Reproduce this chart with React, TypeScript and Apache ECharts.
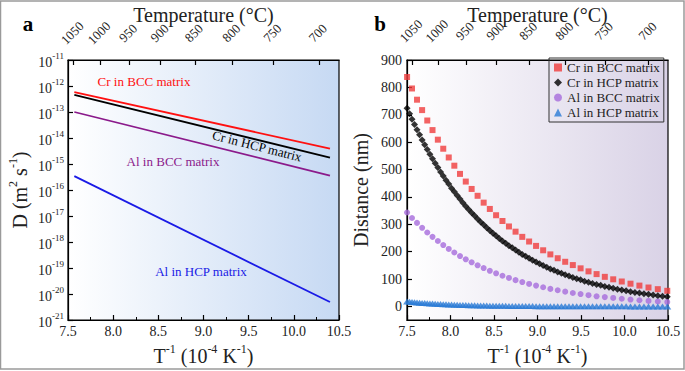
import React, { useEffect, useRef } from "react";
import * as echarts from "echarts";

const FONT = "'Liberation Serif', 'Times New Roman', serif";

// ---------- shared tick values ----------
const TEMP_TICKS = [1050, 1000, 950, 900, 850, 800, 750, 700];
const DIST_TICKS = [0, 100, 200, 300, 400, 500, 600, 700, 800, 900];

// ---------- panel a : diffusion coefficient lines (endpoints), m^2/s ----------
const LINE_X = [7.57, 10.4];
const CR_BCC_D = [5.8e-13, 3.9e-15];
const CR_HCP_D = [4.6e-13, 1.74e-15];
const AL_BCC_D = [1.0e-13, 3.6e-16];
const AL_HCP_D = [3.4e-16, 4.9e-21];
// decade range of panel a (exponents of ten)
const D_MIN_EXP = -21;
const D_MAX_EXP = -11;

// ---------- panel b : diffusion distance (nm) ----------
const TEMPS_COARSE = [
  1060, 1050, 1040, 1030, 1020, 1010, 1000, 990, 980, 970, 960, 950, 940, 930, 920, 910, 900, 890, 880, 870,
  860, 850, 840, 830, 820, 810, 800, 790, 780, 770, 760, 750, 740, 730, 720, 710, 700, 690, 680,
];
const TEMPS_FINE = [
  1060, 1055, 1050, 1045, 1040, 1035, 1030, 1025, 1020, 1015, 1010, 1005, 1000, 995, 990, 985, 980, 975, 970, 965,
  960, 955, 950, 945, 940, 935, 930, 925, 920, 915, 910, 905, 900, 895, 890, 885, 880, 875, 870, 865,
  860, 855, 850, 845, 840, 835, 830, 825, 820, 815, 810, 805, 800, 795, 790, 785, 780, 775, 770, 765,
  760, 755, 750, 745, 740, 735, 730, 725, 720, 715, 710, 705, 700, 695, 690, 685, 680,
];
const CR_BCC_DIST = [
  838, 796, 755, 717, 679, 644, 609, 576, 544, 514, 484, 456, 429, 404, 379, 356, 333, 312, 292, 273,
  254, 237, 221, 205, 190, 176, 163, 151, 139, 128, 118, 108, 99, 91, 83, 76, 69, 63, 57,
];
const CR_HCP_DIST = [
  724, 704, 684, 664, 645, 627, 608, 590, 573, 556, 539, 523, 507, 491, 476, 461, 447, 432, 419, 405,
  392, 379, 366, 354, 342, 331, 319, 308, 298, 287, 277, 267, 258, 248, 239, 231, 222, 214, 206, 198,
  190, 183, 176, 169, 162, 156, 149, 143, 137, 132, 126, 121, 116, 111, 106, 101, 97, 92, 88, 84,
  80, 77, 73, 70, 66, 63, 60, 57, 54, 51, 49, 46, 44, 42, 39, 37, 35,
];
const AL_BCC_DIST = [
  343, 323, 305, 287, 270, 254, 239, 224, 210, 197, 184, 172, 161, 150, 140, 130, 121, 112, 104, 96,
  89, 82, 76, 70, 64, 59, 54, 49, 45, 41, 37, 34, 31, 28, 25, 22.5, 20, 18, 16,
];
const AL_HCP_DIST = [
  18.0, 17.0, 16.1, 15.2, 14.4, 13.6, 12.9, 12.1, 11.5, 10.8, 10.2, 9.6, 9.1, 8.5, 8.0, 7.5, 7.1, 6.7, 6.3, 5.9,
  5.5, 5.2, 4.9, 4.5, 4.3, 4.0, 3.7, 3.5, 3.3, 3.0, 2.8, 2.6, 2.5, 2.3, 2.1, 2.0, 1.85, 1.72, 1.6, 1.48,
  1.38, 1.28, 1.18, 1.09, 1.01, 0.94, 0.86, 0.8, 0.74, 0.68, 0.62, 0.58, 0.53, 0.49, 0.45, 0.41, 0.38, 0.35, 0.32, 0.29,
  0.26, 0.24, 0.22, 0.2, 0.18, 0.17, 0.15, 0.14, 0.12, 0.11, 0.1, 0.09, 0.08, 0.07, 0.07, 0.06, 0.05,
];

const SERIES_NAMES = ["Cr in BCC matrix", "Cr in HCP matrix", "Al in BCC matrix", "Al in HCP matrix"];

const invT = (t: number) => 10000 / (t + 273.15);

const GRID_A = { left: 68, top: 57, width: 271, height: 263 };
const GRID_B = { left: 407, top: 55, width: 261, height: 268 };

const tickRich = {
  b: { fontFamily: FONT, fontSize: 14, color: "#222", lineHeight: 18, verticalAlign: "bottom" },
  s: { fontFamily: FONT, fontSize: 9, color: "#222", lineHeight: 18, verticalAlign: "top" },
};
const nameRich = {
  nb: { fontFamily: FONT, fontSize: 20, color: "#222", lineHeight: 23, verticalAlign: "bottom" },
  ns: { fontFamily: FONT, fontSize: 12, color: "#222", lineHeight: 23, verticalAlign: "top" },
};

const axisLine = { show: true, onZero: false, lineStyle: { color: "#000", width: 1.2 } };
const tickStyle = { color: "#000", width: 1.2 };

function annot(text: string, x: number, y: number, color: string, rotation = 0) {
  return {
    type: "text",
    x,
    y,
    rotation,
    style: { text, fill: color, font: `13px ${FONT}`, align: "center", verticalAlign: "middle" },
    z: 100,
  };
}

function baseGraphics() {
  return [
    {
      type: "rect",
      shape: { x: 0.5, y: 1, width: 683.5, height: 368 },
      style: { fill: "none", stroke: "#9a9a9a", lineWidth: 1.5 },
      silent: true,
    },
    {
      type: "text",
      x: 28,
      y: 24,
      style: { text: "a", fill: "#000", font: `bold 21px ${FONT}`, align: "center", verticalAlign: "middle" },
    },
    {
      type: "text",
      x: 380,
      y: 24,
      style: { text: "b", fill: "#000", font: `bold 21px ${FONT}`, align: "center", verticalAlign: "middle" },
    },
    annot("Cr in BCC matrix", 144, 81, "#ff1010"),
    annot("Cr in HCP matrix", 257, 146, "#000000", -0.25),
    annot("Al in BCC matrix", 173, 161, "#8b1a8b"),
    annot("Al in HCP matrix", 201, 271, "#1a1ae6"),
  ];
}

function buildOption() {
  const topValues = TEMP_TICKS.map(invT);
  const xName = "{nb|T}{ns|-1}{nb| (10}{ns|-4}{nb| K}{ns|-1}{nb|)}";

  const bottomX = (gridIndex: number) => ({
    type: "value",
    gridIndex,
    position: "bottom",
    min: 7.5,
    max: 10.5,
    interval: 0.5,
    axisLine,
    axisTick: { show: true, inside: true, length: 5, lineStyle: tickStyle },
    minorTick: { show: true, splitNumber: 2, length: 3, lineStyle: { color: "#000", width: 1 } },
    splitLine: { show: false },
    axisLabel: {
      fontFamily: FONT,
      fontSize: 14,
      color: "#222",
      margin: 4,
      formatter: (v: number) => v.toFixed(1),
    },
    name: xName,
    nameLocation: "middle",
    nameGap: 17,
    nameTextStyle: { rich: nameRich },
  });

  const topX = (gridIndex: number) => ({
    type: "value",
    gridIndex,
    position: "top",
    min: 7.5,
    max: 10.5,
    axisLine,
    axisTick: { show: true, inside: true, length: 5, lineStyle: tickStyle, customValues: topValues },
    splitLine: { show: false },
    axisLabel: { show: false },
    name: "Temperature (°C)",
    nameLocation: "middle",
    nameGap: 35,
    nameTextStyle: { fontFamily: FONT, fontSize: 20, color: "#222" },
  });

  const gradA = new echarts.graphic.LinearGradient(0, 0, 1, 0, [
    { offset: 0, color: "#ffffff" },
    { offset: 1, color: "#c6d9f3" },
  ]);
  const gradB = new echarts.graphic.LinearGradient(0, 0, 1, 0, [
    { offset: 0, color: "#ffffff" },
    { offset: 1, color: "#d9d2e6" },
  ]);

  const lineSeries = (name: string, ys: number[], color: string) => ({
    name: "a: " + name,
    type: "line",
    xAxisIndex: 0,
    yAxisIndex: 0,
    symbol: "none",
    showSymbol: false,
    lineStyle: { color, width: 1.8 },
    // panel a's vertical axis is a decade (log10) scale
    data: LINE_X.map((x, i) => [x, Math.log10(ys[i])]),
  });

  const scatter = (name: string, temps: number[], vals: number[], symbol: string, size: any, color: string) => ({
    name,
    type: "scatter",
    xAxisIndex: 2,
    yAxisIndex: 1,
    symbol,
    symbolSize: size,
    itemStyle: { color },
    data: temps.map((t, i) => [invT(t), vals[i]]),
  });

  return {
    animation: false,
    backgroundColor: "#ffffff",
    grid: [
      { ...GRID_A, show: true, borderColor: "#000", borderWidth: 1.2, backgroundColor: gradA },
      { ...GRID_B, show: true, borderColor: "#000", borderWidth: 1.2, backgroundColor: gradB },
    ],
    xAxis: [bottomX(0), topX(0), bottomX(1), topX(1)],
    yAxis: [
      {
        type: "value",
        gridIndex: 0,
        min: D_MIN_EXP,
        max: D_MAX_EXP,
        interval: 1,
        axisLine,
        axisTick: { show: true, inside: true, length: 5, lineStyle: tickStyle },
        splitLine: { show: false },
        axisLabel: {
          margin: 4,
          formatter: (v: number) => `{b|10}{s|${Math.round(v)}}`,
          rich: tickRich,
        },
        name: "{nb|D (m}{ns|2}{nb| s}{ns|-1}{nb|)}",
        nameLocation: "middle",
        nameRotate: 90,
        nameGap: 38,
        nameTextStyle: { rich: nameRich },
      },
      {
        type: "value",
        gridIndex: 1,
        min: -50,
        max: 900,
        axisLine,
        axisTick: { show: true, inside: true, length: 5, lineStyle: tickStyle, customValues: DIST_TICKS },
        splitLine: { show: false },
        axisLabel: { customValues: DIST_TICKS, fontFamily: FONT, fontSize: 14, color: "#222", margin: 5 },
        name: "Distance (nm)",
        nameLocation: "middle",
        nameRotate: 90,
        nameGap: 36,
        nameTextStyle: { fontFamily: FONT, fontSize: 20, color: "#222" },
      },
    ],
    legend: {
      orient: "vertical",
      left: 549,
      top: 58,
      padding: [3, 4, 3, 5],
      itemGap: 2,
      itemWidth: 8,
      itemHeight: 8,
      borderColor: "#333",
      borderWidth: 1,
      textStyle: { fontFamily: FONT, fontSize: 13, color: "#222" },
      data: [
        { name: SERIES_NAMES[0], icon: "rect" },
        { name: SERIES_NAMES[1], icon: "diamond" },
        { name: SERIES_NAMES[2], icon: "circle" },
        { name: SERIES_NAMES[3], icon: "triangle" },
      ],
    },
    series: [
      lineSeries(SERIES_NAMES[0], CR_BCC_D, "#ff1010"),
      lineSeries(SERIES_NAMES[1], CR_HCP_D, "#000000"),
      lineSeries(SERIES_NAMES[2], AL_BCC_D, "#8b1a8b"),
      lineSeries(SERIES_NAMES[3], AL_HCP_D, "#1a1ae6"),
      scatter(SERIES_NAMES[0], TEMPS_COARSE, CR_BCC_DIST, "rect", 6, "#f03c3c"),
      scatter(SERIES_NAMES[1], TEMPS_FINE, CR_HCP_DIST, "diamond", 7, "#000000"),
      scatter(SERIES_NAMES[2], TEMPS_COARSE, AL_BCC_DIST, "circle", 6, "#a66cdc"),
      scatter(SERIES_NAMES[3], TEMPS_FINE, AL_HCP_DIST, "triangle", [8, 6], "#2a7bd6"),
    ],
    graphic: baseGraphics(),
  };
}

export default function App() {
  const ref = useRef<HTMLDivElement>(null);
  useEffect(() => {
    document.body.style.margin = "0";
    if (!ref.current) return;
    const chart = echarts.init(ref.current, null, { renderer: "svg" });
    chart.setOption(buildOption() as any);
    // rotated temperature labels of the top axes, placed through the axes' own scales
    const tempLabels: any[] = [];
    [
      { axis: 1, top: GRID_A.top },
      { axis: 3, top: GRID_B.top },
    ].forEach(({ axis, top }) => {
      TEMP_TICKS.forEach((t) => {
        const px = chart.convertToPixel({ xAxisIndex: axis } as any, invT(t)) as unknown as number;
        tempLabels.push({
          type: "text",
          x: px - 1,
          y: top - 24,
          rotation: Math.PI / 4,
          style: {
            text: String(t),
            fill: "#222",
            font: `13px ${FONT}`,
            align: "center",
            verticalAlign: "middle",
          },
        });
      });
    });
    chart.setOption({ graphic: [...baseGraphics(), ...tempLabels] } as any);
    return () => chart.dispose();
  }, []);
  return <div ref={ref} style={{ width: 685, height: 371 }} />;
}
